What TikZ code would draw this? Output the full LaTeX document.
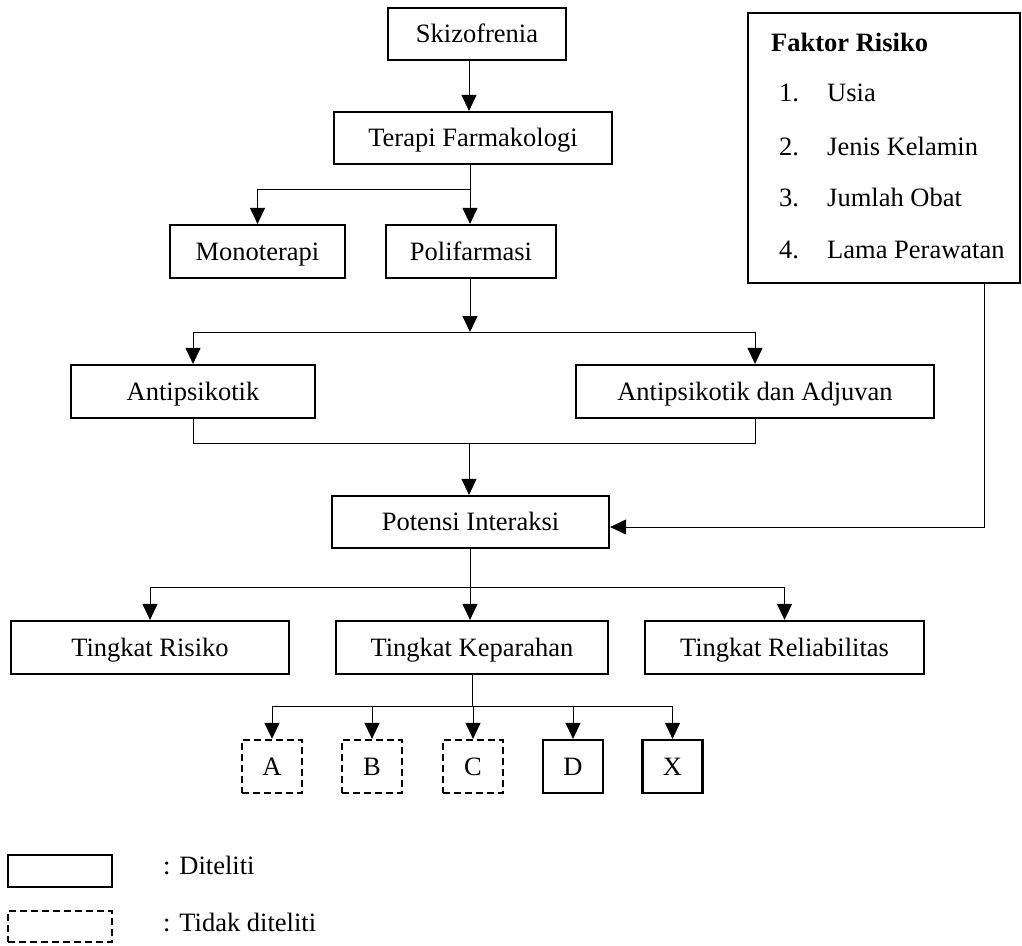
\documentclass[tikz,border=0pt]{standalone}
\usepackage{fontspec}
\setmainfont{Liberation Serif}
\usetikzlibrary{arrows.meta}
\begin{document}
\begin{tikzpicture}[x=1pt,y=-1pt,
  every node/.style={font=\fontsize{26.5}{30}\selectfont, inner sep=0pt, text height=17.5pt, text depth=0pt},
  box/.style={draw, line width=2.2pt, rectangle},
  dbox/.style={draw, line width=2.2pt, rectangle, dash pattern=on 7pt off 4pt},
  ln/.style={line width=1pt},
  arr/.style={line width=1pt, -{Triangle[width=15pt,length=16pt]}}]
\useasboundingbox (0,0) rectangle (1022,945);
% boxes
\node[box, minimum width=178, minimum height=52] (sk) at (477,34) {Skizofrenia};
\node[box, minimum width=278, minimum height=52] (tf) at (473,138) {Terapi Farmakologi};
\node[box, minimum width=175, minimum height=53] (mono) at (257.5,251.5) {Monoterapi};
\node[box, minimum width=170, minimum height=53] (poli) at (471,251.5) {Polifarmasi};
\node[box, minimum width=244, minimum height=53] (anti) at (193,391.5) {Antipsikotik};
\node[box, minimum width=358, minimum height=53] (adj) at (755,391.5) {Antipsikotik dan Adjuvan};
\node[box, minimum width=277, minimum height=52] (pot) at (470.5,522) {Potensi Interaksi};
\node[box, minimum width=278, minimum height=53] (risk) at (150,647.5) {Tingkat Risiko};
\node[box, minimum width=272, minimum height=53] (kep) at (472,647.5) {Tingkat Keparahan};
\node[box, minimum width=279, minimum height=53] (rel) at (784.5,647.5) {Tingkat Reliabilitas};
\node[dbox, minimum width=60, minimum height=53] (A) at (272,766.5) {A};
\node[dbox, minimum width=60, minimum height=53] (B) at (372,766.5) {B};
\node[dbox, minimum width=60, minimum height=53] (C) at (473,766.5) {C};
\node[box, minimum width=60, minimum height=53] (D) at (573,766.5) {D};
\node[box, minimum width=60, minimum height=53] (X) at (672.5,766.5) {X};
% faktor risiko
\node[box, minimum width=272, minimum height=270] (fk) at (884,148) {};
\node[anchor=west, font=\fontsize{26.5}{30}\selectfont\bfseries] (fkt) at (771,43) {Faktor Risiko};
\node[anchor=west] (n1) at (779,93) {1.};
\node[anchor=west] (t1) at (827,93) {Usia};
\node[anchor=west] (n2) at (779,147) {2.};
\node[anchor=west] (t2) at (827,147) {Jenis Kelamin};
\node[anchor=west] (n3) at (779,198) {3.};
\node[anchor=west] (t3) at (827,198) {Jumlah Obat};
\node[anchor=west] (n4) at (779,250) {4.};
\node[anchor=west] (t4) at (827,250) {Lama Perawatan};
% legend
\node[box, minimum width=104, minimum height=32] (l1) at (60,871) {};
\node[anchor=west] (l1t) at (163,866) {: Diteliti};
\node[dbox, minimum width=104, minimum height=31] (l2) at (60,926.5) {};
\node[anchor=west] (l2t) at (163,923) {: Tidak diteliti};
% junctions
\coordinate (c0) at (469,0);
\coordinate (j1) at (470,189);
\coordinate (j2) at (470,332);
\coordinate (j3) at (469,443);
\coordinate (fc) at (984,527);
\coordinate (j4) at (470,587);
\coordinate (j5) at (472,706);
% connectors
\draw[arr] (sk.south -| c0) -- (tf.north -| c0);
\draw[ln] (tf.south -| j1) -- (j1);
\draw[arr] (j1) -| (mono.north);
\draw[arr] (j1) -- (poli.north -| j1);
\draw[arr] (poli.south -| j2) -- (j2);
\draw[ln] (anti.north |- j2) -- (adj.north |- j2);
\draw[arr] (anti.north |- j2) -- (anti.north);
\draw[arr] (adj.north |- j2) -- (adj.north);
\draw[ln] (anti.south) -- (anti.south |- j3) -- (adj.south |- j3) -- (adj.south);
\draw[arr] (j3) -- (pot.north -| j3);
\draw[arr] (fk.south -| fc) -- (fc) -- (pot.east |- fc);
\draw[ln] (pot.south -| j4) -- (j4);
\draw[ln] (risk.north |- j4) -- (rel.north |- j4);
\draw[arr] (risk.north |- j4) -- (risk.north);
\draw[arr] (j4) -- (kep.north -| j4);
\draw[arr] (rel.north |- j4) -- (rel.north);
\draw[ln] (kep.south -| j5) -- (j5);
\draw[ln] (A.north |- j5) -- (X.north |- j5);
\foreach \n in {A,B,C,D,X} {\draw[arr] (\n.north |- j5) -- (\n.north);}
\end{tikzpicture}
\end{document}
